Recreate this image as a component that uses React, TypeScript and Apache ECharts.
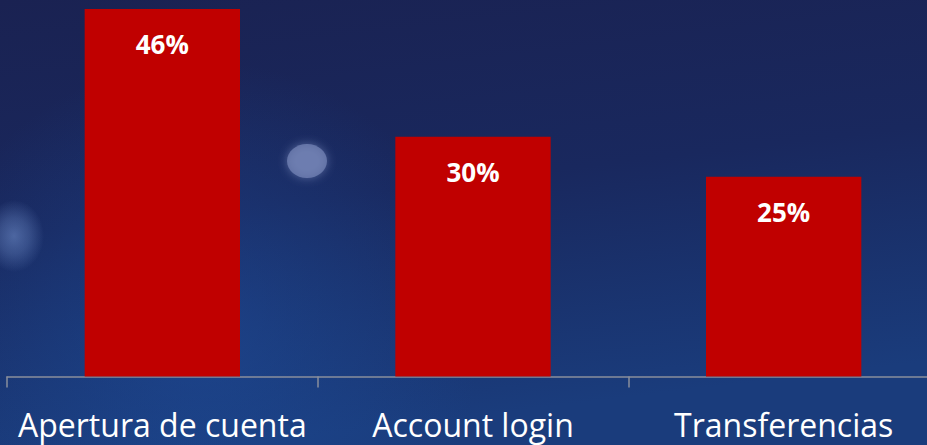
import React, { useEffect, useRef } from "react";
import * as echarts from "echarts";

const categories = ["Apertura de cuenta", "Account login", "Transferencias"];
const values = [46, 30, 25];

export default function App() {
  const ref = useRef<HTMLDivElement>(null);
  useEffect(() => {
    if (!ref.current) return;
    const chart = echarts.init(ref.current, null, { renderer: "svg" });
    chart.setOption({
      animation: false,
      backgroundColor: {
        type: "linear",
        x: 0, y: 0, x2: 0.25, y2: 1,
        colorStops: [
          { offset: 0, color: "#1a2252" },
          { offset: 0.5, color: "#19285e" },
          { offset: 1, color: "#1a3c7c" },
        ],
      },
      graphic: [
        {
          type: "circle",
          shape: { cx: 200, cy: 340, r: 280 },
          style: {
            fill: {
              type: "radial", x: 0.5, y: 0.5, r: 0.5,
              colorStops: [
                { offset: 0, color: "rgba(30,80,160,0.5)" },
                { offset: 1, color: "rgba(30,80,160,0)" },
              ],
            },
          },
          z: -10,
          silent: true,
        },
        {
          type: "ellipse",
          shape: { cx: 307, cy: 161, rx: 20, ry: 17 },
          style: { fill: "rgba(120,135,185,0.7)", shadowBlur: 10, shadowColor: "rgba(120,135,185,0.9)" },
          z: -5,
          silent: true,
        },
        {
          type: "ellipse",
          shape: { cx: 14, cy: 236, rx: 30, ry: 36 },
          style: {
            fill: {
              type: "radial", x: 0.5, y: 0.5, r: 0.5,
              colorStops: [
                { offset: 0, color: "rgba(110,140,200,0.6)" },
                { offset: 0.5, color: "rgba(110,140,200,0.35)" },
                { offset: 1, color: "rgba(110,140,200,0)" },
              ],
            },
          },
          z: -5,
          silent: true,
        },
      ],
      grid: { left: 7, width: 932, top: 9, bottom: 68.5, containLabel: false, outerBoundsMode: "none" },
      xAxis: {
        type: "category",
        data: categories,
        axisLine: { lineStyle: { color: "#8a8f9c", width: 1.5 } },
        axisTick: { show: true, length: 11, lineStyle: { color: "#8a8f9c", width: 1.5 } },
        axisLabel: {
          color: "#ffffff",
          fontFamily: "Open Sans",
          fontSize: 32,
          margin: 32,
          interval: 0,
        },
      },
      yAxis: {
        type: "value",
        min: 0,
        max: 46,
        show: false,
        splitLine: { show: false },
      },
      series: [
        {
          type: "bar",
          data: values,
          barWidth: "50%",
          itemStyle: { color: "#c00000" },
          z: 2,
          label: {
            show: true,
            position: "insideTop",
            distance: 22,
            formatter: "{c}%",
            color: "#ffffff",
            fontFamily: "Open Sans",
            fontWeight: "bold",
            fontSize: 26,
          },
        },
      ],
    });
    return () => chart.dispose();
  }, []);
  return (
    <div
      ref={ref}
      style={{ position: "fixed", left: 0, top: 0, width: 927, height: 445 }}
    />
  );
}
